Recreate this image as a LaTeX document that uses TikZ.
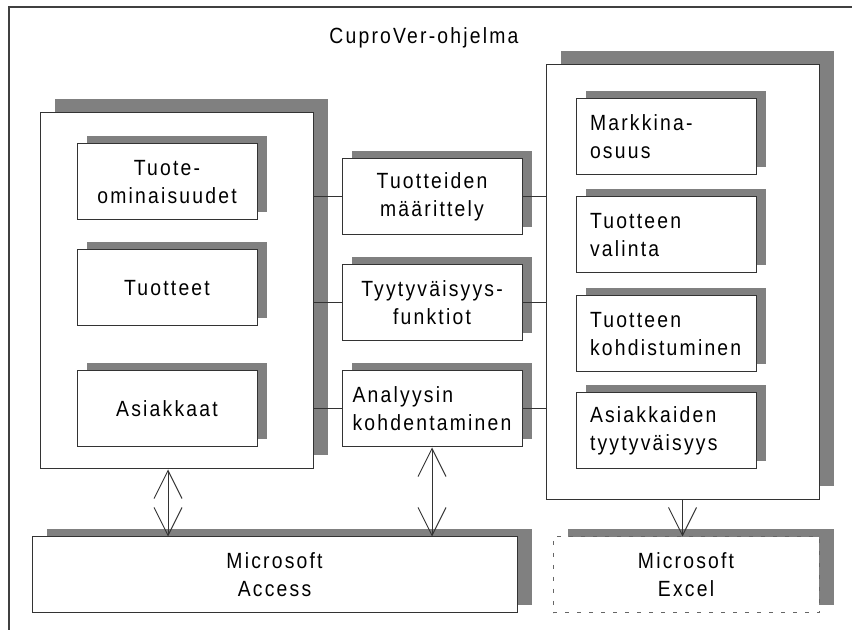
\documentclass[tikz,border=0pt]{standalone}
\usepackage{fontspec}
\setmainfont{Liberation Sans}[FakeStretch=0.88, LetterSpace=10]
\usetikzlibrary{arrows.meta, shadows}

\begin{document}
\begin{tikzpicture}[x=0.5pt, y=-0.5pt,
  every node/.style={font=\fontsize{11}{14}\selectfont},
  box/.style={draw=black!80, line width=0.5pt, fill=white, inner sep=0pt, align=center},
  bigbox/.style={box, minimum width=136.5pt, drop shadow={shadow xshift=7.5pt, shadow yshift=7pt, fill=black!50, opacity=1}},
  smallbox/.style={box, minimum width=90pt, minimum height=38pt, drop shadow={shadow xshift=5pt, shadow yshift=4pt, fill=black!50, opacity=1}},
  appbox/.style={box, minimum height=38pt, drop shadow={shadow xshift=7.5pt, shadow yshift=4pt, fill=black!50, opacity=1}},
  rtext/.style={align=left, text width=76pt},
  link/.style={draw=black!80, line width=0.5pt},
  >={Straight Barb[length=14pt, width=14pt]}
]
\useasboundingbox (0,0) rectangle (852,630);

% Frame and title
\draw[black!75, line width=0.75pt] (852,7) -- (9,7) -- (9,630);
\node (title) at (424,38) {CuproVer-ohjelma};

% Data side (left)
\node[bigbox, minimum height=178pt] (lbox) at (176.5,291) {};
\node[smallbox] (props) at (167,182) {Tuote-\\ominaisuudet};
\node[smallbox] (prods) at (167,288) {Tuotteet};
\node[smallbox] (custs) at (167,409) {Asiakkaat};

% Functions (middle)
\node[smallbox] (mdef) at (432,197) {Tuotteiden\\määrittely};
\node[smallbox] (msat) at (432,303) {Tyytyväisyys-\\funktiot};
\node[smallbox, align=left] (mana) at (432,409) {Analyysin\\kohdentaminen};

% Results side (right)
\node[bigbox, minimum height=217.5pt] (rbox) at (682.5,282.5) {};
\node[smallbox, rtext] (share) at (666,137) {Markkina-\\osuus};
\node[smallbox, rtext] (choice) at (666,235) {Tuotteen\\valinta};
\node[smallbox, rtext] (target) at (666,334) {Tuotteen\\kohdistuminen};
\node[smallbox, rtext] (csat) at (666,431) {Asiakkaiden\\tyytyväisyys};

% Applications
\node[appbox, minimum width=242.5pt] (access) at (274.5,575) {Microsoft\\Access};
\node[appbox, minimum width=133pt, draw=black!60, dash pattern=on 2pt off 4pt] (excel) at (686,575) {Microsoft\\Excel};

% Links between the parts
\foreach \m in {mdef, msat, mana} {
  \draw[link] (\m.west) -- (\m.west -| lbox.east);
  \draw[link] (\m.east) -- (\m.east -| rbox.west);
}

% Data flows
\coordinate (lport) at ([xshift=-4.25pt]lbox.south);
\draw[link, <->] (lport) -- (lport |- access.north);
\draw[link, <->] (mana.south) -- (mana.south |- access.north);
\draw[link, ->] (rbox.south) -- (rbox.south |- excel.north);
\end{tikzpicture}
\end{document}
